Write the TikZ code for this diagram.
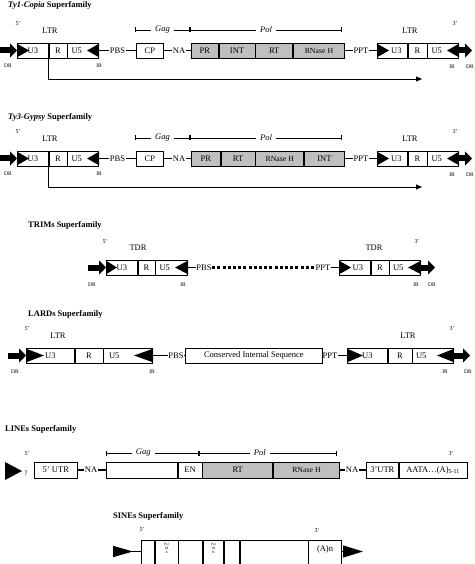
\documentclass[tikz,border=0pt]{standalone}
\usepackage{fontspec}
\setmainfont{Liberation Serif}
\usetikzlibrary{arrows.meta}
\usetikzlibrary{positioning}
\tikzstyle{seg} = [
    rectangle,
    draw=black,
    line width=0.7pt,
    inner sep=0pt,
    minimum height=15pt,
    font=\fontsize{8.5}{10}\selectfont
]
\tikzstyle{grey_seg} = [seg, fill=black!25]
\tikzstyle{txt} = [inner sep=0.5pt, font=\fontsize{8.5}{10}\selectfont]
\tikzstyle{small_txt} = [inner sep=0pt, font=\fontsize{5.5}{6}\selectfont]
\tikzstyle{prime} = [inner sep=0pt, font=\fontsize{6}{7}\selectfont]
\tikzstyle{title} = [anchor=west, inner sep=0pt, font=\fontsize{8.5}{10}\selectfont\bfseries]
\tikzstyle{link} = [line width=1.4pt]
\tikzstyle{dr_arrow} = [line width=6pt, -{Triangle[length=7pt, width=14pt]}]
\tikzstyle{tx_arrow} = [line width=0.8pt, -{Triangle[length=6pt, width=5pt]}]
\tikzstyle{bracket} = [line width=0.6pt, {Bar[width=5pt]}-{Bar[width=5pt]}]
\tikzstyle{domain_label} = [fill=white, inner xsep=4pt, inner ysep=0pt, font=\fontsize{8.5}{10}\selectfont\itshape]
\tikzstyle{rnh} = [font=\fontsize{7.8}{9}\selectfont]
\tikzstyle{pol3} = [align=center, font=\fontsize{3.5}{4}\selectfont]
\tikzstyle{sine_seg} = [seg, minimum height=30pt]

\begin{document}
\begin{tikzpicture}[x=1pt, y=-1pt]
\useasboundingbox (0,0) rectangle (474,564);

% ---- Ty1-Copia
\node[title] (title_copia) at (8,5) {\textit{Ty1-Copia} Superfamily};
\node[prime] (five_copia) at (18,24) {5'};
\node[txt] (ltr_copia_l) at (50,31) {LTR};
\node[txt] (ltr_copia_r) at (410,31) {LTR};
\node[prime] (three_copia) at (455,24) {3'};
\node[seg, minimum width=31pt, anchor=west] (u3_copia_l) at (17,50.5) {U3};
\node[seg, minimum width=18pt, right=0pt of u3_copia_l] (r_copia_l) {R};
\node[seg, minimum width=31pt, right=0pt of r_copia_l] (u5_copia_l) {U5\hspace*{13pt}};
\node[txt] (pbs_copia) at (117.5,50.5) {PBS};
\node[seg, minimum width=27pt, anchor=west] (cp_copia) at (136,50.5) {CP};
\node[txt] (na_copia) at (179,50.5) {NA};
\node[grey_seg, minimum width=27pt, anchor=west] (pr_copia) at (191,50.5) {PR};
\node[grey_seg, minimum width=36pt, right=0pt of pr_copia] (int_copia) {INT};
\node[grey_seg, minimum width=37pt, right=0pt of int_copia] (rt_copia) {RT};
\node[grey_seg, rnh, minimum width=51pt, right=0pt of rt_copia] (rnh_copia) {RNase H};
\node[txt] (ppt_copia) at (361,50.5) {PPT};
\node[seg, minimum width=30pt, anchor=west] (u3_copia_r) at (377,50.5) {\hspace*{8pt}U3};
\node[seg, minimum width=19pt, right=0pt of u3_copia_r] (r_copia_r) {R};
\node[seg, minimum width=31pt, right=0pt of r_copia_r] (u5_copia_r) {U5\hspace*{13pt}};
\node[small_txt] (dr_copia_lt) at (8,66) {DR};
\node[small_txt] (ir_copia_lt) at (99,66) {IR};
\node[small_txt] (ir_copia_rt) at (452,67) {IR};
\node[small_txt] (dr_copia_rt) at (470,67) {DR};
\coordinate (dr_copia_l) at (0,50.5);
\coordinate (dr_copia_r) at (472,50.5);
\coordinate (gag_copia_s) at (135,30);
\coordinate (gag_copia_e) at (190,30);
\coordinate (pol_copia_e) at (342,30);
\coordinate (tx_copia) at (422,79);
\draw[dr_arrow] (dr_copia_l) -- (u3_copia_l.west);
\draw[dr_arrow] (u5_copia_r.east) -- (dr_copia_r);
\fill ([yshift=1pt]u3_copia_l.south west) -- ([yshift=-1pt]u3_copia_l.north west) -- ([xshift=12pt]u3_copia_l.west) -- cycle;
\fill ([yshift=1pt]u5_copia_l.south east) -- ([yshift=-1pt]u5_copia_l.north east) -- ([xshift=-12pt]u5_copia_l.east) -- cycle;
\fill ([yshift=1pt]u3_copia_r.south west) -- ([yshift=-1pt]u3_copia_r.north west) -- ([xshift=12pt]u3_copia_r.west) -- cycle;
\fill ([yshift=1pt]u5_copia_r.south east) -- ([yshift=-1pt]u5_copia_r.north east) -- ([xshift=-12pt]u5_copia_r.east) -- cycle;
\draw[link] (u5_copia_l) -- (pbs_copia);
\draw[link] (pbs_copia) -- (cp_copia);
\draw[link] (cp_copia) -- (na_copia);
\draw[link] (na_copia) -- (pr_copia);
\draw[link] (rnh_copia) -- (ppt_copia);
\draw[link] (ppt_copia) -- (u3_copia_r);
\draw[bracket] (gag_copia_s) -- (gag_copia_e) node[domain_label, midway] (gag_copia) {Gag};
\draw[bracket] (gag_copia_e) -- (pol_copia_e) node[domain_label, midway] (pol_copia) {Pol};
\draw[tx_arrow] (r_copia_l.south west) |- (tx_copia);

% ---- Ty3-Gypsy
\node[title] (title_gypsy) at (8,117) {\textit{Ty3-Gypsy} Superfamily};
\node[prime] (five_gypsy) at (18,132) {5'};
\node[txt] (ltr_gypsy_l) at (50,139) {LTR};
\node[txt] (ltr_gypsy_r) at (410,139) {LTR};
\node[prime] (three_gypsy) at (455,132) {3'};
\node[seg, minimum width=31pt, anchor=west] (u3_gypsy_l) at (17,158.5) {U3};
\node[seg, minimum width=18pt, right=0pt of u3_gypsy_l] (r_gypsy_l) {R};
\node[seg, minimum width=31pt, right=0pt of r_gypsy_l] (u5_gypsy_l) {U5\hspace*{13pt}};
\node[txt] (pbs_gypsy) at (117.5,158.5) {PBS};
\node[seg, minimum width=27pt, anchor=west] (cp_gypsy) at (136,158.5) {CP};
\node[txt] (na_gypsy) at (179,158.5) {NA};
\node[grey_seg, minimum width=29pt, anchor=west] (pr_gypsy) at (191,158.5) {PR};
\node[grey_seg, minimum width=34pt, right=0pt of pr_gypsy] (rt_gypsy) {RT};
\node[grey_seg, rnh, minimum width=48pt, right=0pt of rt_gypsy] (rnh_gypsy) {RNase H};
\node[grey_seg, minimum width=40pt, right=0pt of rnh_gypsy] (int_gypsy) {INT};
\node[txt] (ppt_gypsy) at (361,158.5) {PPT};
\node[seg, minimum width=30pt, anchor=west] (u3_gypsy_r) at (377,158.5) {\hspace*{8pt}U3};
\node[seg, minimum width=19pt, right=0pt of u3_gypsy_r] (r_gypsy_r) {R};
\node[seg, minimum width=31pt, right=0pt of r_gypsy_r] (u5_gypsy_r) {U5\hspace*{13pt}};
\node[small_txt] (dr_gypsy_lt) at (8,174) {DR};
\node[small_txt] (ir_gypsy_lt) at (99,174) {IR};
\node[small_txt] (ir_gypsy_rt) at (452,175) {IR};
\node[small_txt] (dr_gypsy_rt) at (470,175) {DR};
\coordinate (dr_gypsy_l) at (0,158.5);
\coordinate (dr_gypsy_r) at (472,158.5);
\coordinate (gag_gypsy_s) at (135,138);
\coordinate (gag_gypsy_e) at (190,138);
\coordinate (pol_gypsy_e) at (342,138);
\coordinate (tx_gypsy) at (422,187);
\draw[dr_arrow] (dr_gypsy_l) -- (u3_gypsy_l.west);
\draw[dr_arrow] (u5_gypsy_r.east) -- (dr_gypsy_r);
\fill ([yshift=1pt]u3_gypsy_l.south west) -- ([yshift=-1pt]u3_gypsy_l.north west) -- ([xshift=12pt]u3_gypsy_l.west) -- cycle;
\fill ([yshift=1pt]u5_gypsy_l.south east) -- ([yshift=-1pt]u5_gypsy_l.north east) -- ([xshift=-12pt]u5_gypsy_l.east) -- cycle;
\fill ([yshift=1pt]u3_gypsy_r.south west) -- ([yshift=-1pt]u3_gypsy_r.north west) -- ([xshift=12pt]u3_gypsy_r.west) -- cycle;
\fill ([yshift=1pt]u5_gypsy_r.south east) -- ([yshift=-1pt]u5_gypsy_r.north east) -- ([xshift=-12pt]u5_gypsy_r.east) -- cycle;
\draw[link] (u5_gypsy_l) -- (pbs_gypsy);
\draw[link] (pbs_gypsy) -- (cp_gypsy);
\draw[link] (cp_gypsy) -- (na_gypsy);
\draw[link] (na_gypsy) -- (pr_gypsy);
\draw[link] (int_gypsy) -- (ppt_gypsy);
\draw[link] (ppt_gypsy) -- (u3_gypsy_r);
\draw[bracket] (gag_gypsy_s) -- (gag_gypsy_e) node[domain_label, midway] (gag_gypsy) {Gag};
\draw[bracket] (gag_gypsy_e) -- (pol_gypsy_e) node[domain_label, midway] (pol_gypsy) {Pol};
\draw[tx_arrow] (r_gypsy_l.south west) |- (tx_gypsy);

% ---- TRIMs
\node[title] (title_trims) at (28,225) {TRIMs Superfamily};
\node[prime] (five_trims) at (105,242) {5'};
\node[txt] (tdr_trims_l) at (138,248) {TDR};
\node[txt] (tdr_trims_r) at (374,248) {TDR};
\node[prime] (three_trims) at (417,242) {3'};
\node[seg, minimum width=31pt, anchor=west] (u3_trims_l) at (106,267.5) {U3};
\node[seg, minimum width=17pt, right=0pt of u3_trims_l] (r_trims_l) {R};
\node[seg, minimum width=32pt, right=0pt of r_trims_l] (u5_trims_l) {U5\hspace*{14pt}};
\node[txt] (pbs_trims) at (204,267.5) {PBS};
\node[txt] (ppt_trims) at (323,267.5) {PPT};
\node[seg, minimum width=31pt, anchor=west] (u3_trims_r) at (339,267.5) {\hspace*{6pt}U3};
\node[seg, minimum width=18pt, right=0pt of u3_trims_r] (r_trims_r) {R};
\node[seg, minimum width=31pt, right=0pt of r_trims_r] (u5_trims_r) {U5\hspace*{14pt}};
\node[small_txt] (dr_trims_lt) at (92,285) {DR};
\node[small_txt] (ir_trims_lt) at (183,285) {IR};
\node[small_txt] (ir_trims_rt) at (416,285) {IR};
\node[small_txt] (dr_trims_rt) at (432,285) {DR};
\coordinate (dr_trims_l) at (88,267.5);
\coordinate (dr_trims_r) at (435,267.5);
\draw[dr_arrow] (dr_trims_l) -- (u3_trims_l.west);
\draw[dr_arrow] (u5_trims_r.east) -- (dr_trims_r);
\fill ([yshift=1pt]u3_trims_l.south west) -- ([yshift=-1pt]u3_trims_l.north west) -- ([xshift=11pt]u3_trims_l.west) -- cycle;
\fill ([yshift=1pt]u5_trims_l.south east) -- ([yshift=-1pt]u5_trims_l.north east) -- ([xshift=-13pt]u5_trims_l.east) -- cycle;
\fill ([yshift=1pt]u3_trims_r.south west) -- ([yshift=-1pt]u3_trims_r.north west) -- ([xshift=12pt]u3_trims_r.west) -- cycle;
\fill ([yshift=1pt]u5_trims_r.south east) -- ([yshift=-1pt]u5_trims_r.north east) -- ([xshift=-13pt]u5_trims_r.east) -- cycle;
\draw[link] (u5_trims_l) -- (pbs_trims);
\draw[line width=2.2pt, dash pattern=on 3pt off 2.2pt] (pbs_trims) -- (ppt_trims);
\draw[link] (ppt_trims) -- (u3_trims_r);

% ---- LARDs
\node[title] (title_lards) at (28,314) {LARDs Superfamily};
\node[prime] (five_lards) at (27,329) {5'};
\node[txt] (ltr_lards_l) at (58,336) {LTR};
\node[txt] (ltr_lards_r) at (408,336) {LTR};
\node[prime] (three_lards) at (452,329) {3'};
\node[seg, minimum width=48pt, anchor=west] (u3_lards_l) at (26,355.5) {U3};
\node[seg, minimum width=28pt, right=0pt of u3_lards_l] (r_lards_l) {R};
\node[seg, minimum width=49pt, right=0pt of r_lards_l] (u5_lards_l) {U5\hspace*{28pt}};
\node[txt] (pbs_lards) at (176,355.5) {PBS};
\node[seg, minimum width=137pt, anchor=west] (cis_lards) at (185,355.5) {Conserved Internal Sequence};
\node[txt] (ppt_lards) at (330,355.5) {PPT};
\node[seg, minimum width=40pt, anchor=west] (u3_lards_r) at (347,355.5) {U3};
\node[seg, minimum width=24pt, right=0pt of u3_lards_r] (r_lards_r) {R};
\node[seg, minimum width=41pt, right=0pt of r_lards_r] (u5_lards_r) {U5\hspace*{24pt}};
\node[small_txt] (dr_lards_lt) at (15,372) {DR};
\node[small_txt] (ir_lards_lt) at (152,372) {IR};
\node[small_txt] (ir_lards_rt) at (445,372) {IR};
\node[small_txt] (dr_lards_rt) at (468,372) {DR};
\coordinate (dr_lards_l) at (8,355.5);
\coordinate (dr_lards_r) at (470,355.5);
\draw[dr_arrow] (dr_lards_l) -- (u3_lards_l.west);
\draw[dr_arrow] (u5_lards_r.east) -- (dr_lards_r);
\fill ([yshift=1pt]u3_lards_l.south west) -- ([yshift=-1pt]u3_lards_l.north west) -- ([xshift=18pt]u3_lards_l.west) -- cycle;
\fill ([yshift=1pt]u5_lards_l.south east) -- ([yshift=-1pt]u5_lards_l.north east) -- ([xshift=-19pt]u5_lards_l.east) -- cycle;
\fill ([yshift=1pt]u3_lards_r.south west) -- ([yshift=-1pt]u3_lards_r.north west) -- ([xshift=16pt]u3_lards_r.west) -- cycle;
\fill ([yshift=1pt]u5_lards_r.south east) -- ([yshift=-1pt]u5_lards_r.north east) -- ([xshift=-17pt]u5_lards_r.east) -- cycle;
\draw[link] (u5_lards_l) -- (pbs_lards);
\draw[link] (pbs_lards) -- (cis_lards);
\draw[link] (ppt_lards) -- (u3_lards_r);

% ---- LINEs
\node[title] (title_lines) at (5,429) {LINEs Superfamily};
\node[prime] (five_lines) at (27,454) {5'};
\node[prime] (three_lines) at (451,454) {3'};
\node[inner sep=0pt, font=\fontsize{7}{8}\selectfont] (q_lines) at (26,473) {?};
\node[seg, minimum height=16pt, minimum width=43pt, anchor=west] (utr5_lines) at (34,470) {5' UTR};
\node[txt] (na_lines_l) at (91,470) {NA};
\node[seg, minimum height=16pt, minimum width=71pt, anchor=west] (orf_lines) at (106,470) {};
\node[seg, minimum height=16pt, minimum width=24pt, right=0pt of orf_lines] (en_lines) {EN};
\node[grey_seg, minimum height=16pt, minimum width=70pt, right=0pt of en_lines] (rt_lines) {RT};
\node[grey_seg, rnh, minimum height=16pt, minimum width=66pt, right=0pt of rt_lines] (rnh_lines) {RNase H};
\node[txt] (na_lines_r) at (352,470) {NA};
\node[seg, minimum height=16pt, minimum width=32pt, anchor=west] (utr3_lines) at (366,470) {3'UTR};
\node[seg, minimum height=16pt, minimum width=68pt, right=0pt of utr3_lines] (polya_lines) {AATA\ldots(A)\textsubscript{5-11}};
\coordinate (gag_lines_s) at (106,453);
\coordinate (gag_lines_e) at (199,453);
\coordinate (pol_lines_e) at (337,453);
\fill (5,462) -- (22,471) -- (5,480) -- cycle;
\draw[link] (utr5_lines) -- (na_lines_l);
\draw[link] (na_lines_l) -- (orf_lines);
\draw[link] (rnh_lines) -- (na_lines_r);
\draw[link] (na_lines_r) -- (utr3_lines);
\draw[bracket] (gag_lines_s) -- (gag_lines_e) node[domain_label, pos=0.4] (gag_lines) {Gag};
\draw[bracket] (gag_lines_e) -- (pol_lines_e) node[domain_label, pos=0.44] (pol_lines) {Pol};

% ---- SINEs (box runs past the bottom edge)
\node[title] (title_sines) at (113,516) {SINEs Superfamily};
\node[prime] (five_sines) at (142,530) {5'};
\node[prime] (three_sines) at (317,531) {3'};
\node[sine_seg, minimum width=13pt, anchor=west] (s1_sines) at (141,555) {};
\node[sine_seg, pol3, minimum width=23pt, text height=9pt, text depth=12pt, right=0pt of s1_sines] (pola_sines) {Pol\\III\\A};
\node[sine_seg, minimum width=24pt, right=0pt of pola_sines] (s3_sines) {};
\node[sine_seg, pol3, minimum width=20pt, text height=9pt, text depth=12pt, right=0pt of s3_sines] (polb_sines) {Pol\\III\\B};
\node[sine_seg, minimum width=15pt, right=0pt of polb_sines] (s5_sines) {};
\node[sine_seg, minimum width=68pt, right=0pt of s5_sines] (s6_sines) {};
\node[sine_seg, minimum width=33pt, text height=6pt, text depth=13pt, right=0pt of s6_sines] (an_sines) {(A)n};
\coordinate (sine_l) at (113,551.5);
\coordinate (sine_r) at (363,551.5);
\draw[link, {Triangle[reversed, length=20pt, width=11pt]}-] (sine_l) -- (s1_sines.west |- sine_l);
\draw[link, -{Triangle[length=20pt, width=12pt]}] (an_sines.east |- sine_r) -- (sine_r);
\end{tikzpicture}
\end{document}
